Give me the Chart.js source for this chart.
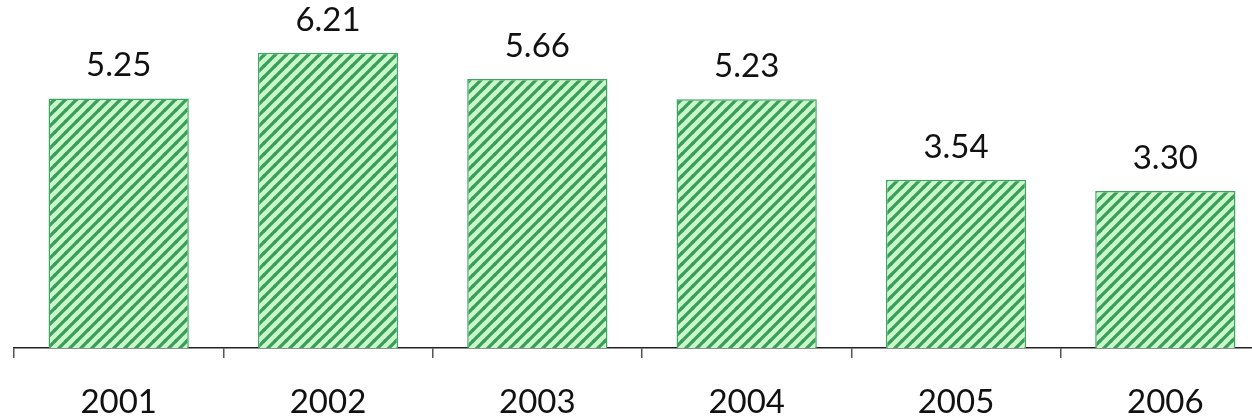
<!DOCTYPE html>
<html>
<head>
<meta charset="utf-8">
<script src="https://cdn.jsdelivr.net/npm/chart.js@4"></script>
<style>
  html, body { margin: 0; padding: 0; background: #fff; overflow: hidden; width: 1252px; height: 418px; }
  #c { display: block; }
</style>
</head>
<body>
<canvas id="c" width="1270" height="418" style="width:1270px;height:418px"></canvas>
<script>
const categories = ['2001', '2002', '2003', '2004', '2005', '2006'];
const values = [5.25, 6.21, 5.66, 5.23, 3.54, 3.30];
const valueLabels = ['5.25', '6.21', '5.66', '5.23', '3.54', '3.30'];

function makePattern() {
  const n = 11;
  const t = document.createElement('canvas');
  t.width = n; t.height = n;
  const g = t.getContext('2d');
  g.fillStyle = '#c8f7c8';
  g.fillRect(0, 0, n, n);
  g.strokeStyle = '#3b9c5e';
  g.lineWidth = 3.2;
  g.lineCap = 'square';
  [[-n, n, n, -n], [0, 2 * n, 2 * n, 0], [-n / 2, n / 2, n / 2, -n / 2], [0, n, n, 0], [n / 2, 3 * n / 2, 3 * n / 2, n / 2]].forEach(s => {
    g.beginPath(); g.moveTo(s[0], s[1]); g.lineTo(s[2], s[3]); g.stroke();
  });
  return document.getElementById('c').getContext('2d').createPattern(t, 'repeat');
}

const FONT = 'Lato, "Open Sans", sans-serif';

const valueLabelPlugin = {
  id: 'valueLabels',
  afterDatasetsDraw(chart) {
    const ctx = chart.ctx;
    const meta = chart.getDatasetMeta(0);
    ctx.save();
    ctx.font = '400 33px ' + FONT;
    ctx.fillStyle = '#111';
    ctx.textAlign = 'center';
    ctx.textBaseline = 'alphabetic';
    meta.data.forEach((bar, i) => {
      ctx.fillText(valueLabels[i], bar.x, bar.y - 22);
    });
    ctx.restore();
  }
};

new Chart(document.getElementById('c'), {
  type: 'bar',
  data: {
    labels: categories,
    datasets: [{
      data: values,
      backgroundColor: makePattern(),
      borderColor: '#3fa563',
      borderWidth: 1.5,
      categoryPercentage: 0.67,
      barPercentage: 1.0
    }]
  },
  options: {
    responsive: false,
    animation: false,
    devicePixelRatio: 1,
    layout: { padding: { left: 14, right: 0, top: 0, bottom: 0 } },
    plugins: { legend: { display: false }, tooltip: { enabled: false } },
    scales: {
      x: {
        offset: true,
        grid: { drawOnChartArea: false, drawTicks: true, tickLength: 10, color: '#555', lineWidth: 1.5, offset: true },
        border: { display: true, color: '#222', width: 1.5 },
        ticks: { font: { size: 33, family: FONT, weight: '400' }, color: '#111', padding: 25, maxRotation: 0 },
        afterFit(scale) { scale.height = 70; }
      },
      y: {
        display: false,
        min: 0,
        max: 7.32
      }
    }
  },
  plugins: [valueLabelPlugin]
});
</script>
</body>
</html>
